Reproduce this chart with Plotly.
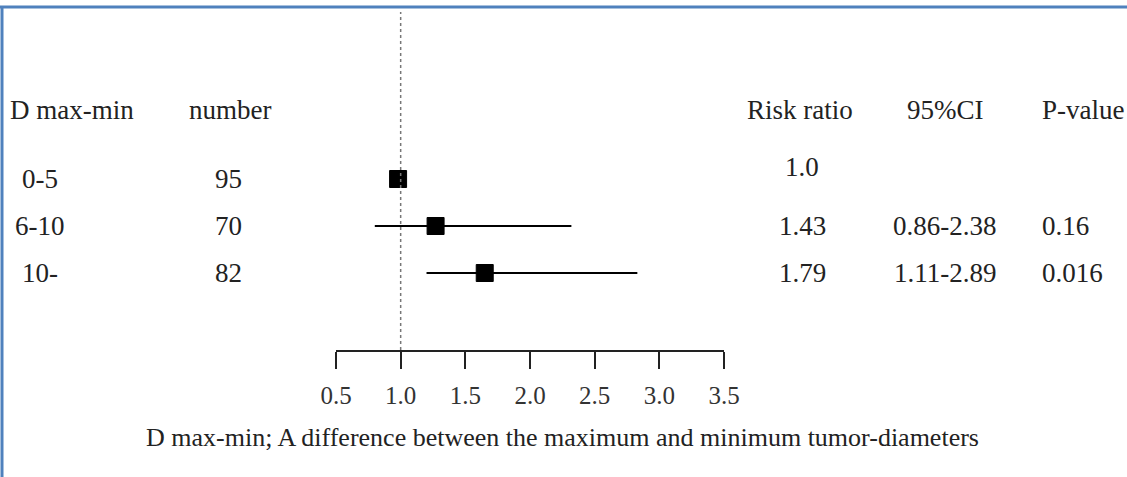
import plotly.graph_objects as go

# ---- data ----
groups = ["0-5", "6-10", "10-"]
numbers = ["95", "70", "82"]
rr_text = ["1.0", "1.43", "1.79"]
ci_text = ["", "0.86-2.38", "1.11-2.89"]
p_text = ["", "0.16", "0.016"]
# plotted positions
rr_plot = [0.98, 1.27, 1.65]
ci_lo_plot = [0.98, 0.80, 1.20]
ci_hi_plot = [0.98, 2.32, 2.83]
x_ticks = [0.5, 1.0, 1.5, 2.0, 2.5, 3.0, 3.5]
tick_labels = ["0.5", "1.0", "1.5", "2.0", "2.5", "3.0", "3.5"]
headers = ["D max-min", "number", "Risk ratio", "95%CI", "P-value"]
caption = "D max-min; A difference between the maximum and minimum tumor-diameters"

W, H = 1127, 477
FONT = "'Liberation Serif', 'Times New Roman', Times, serif"
rows = list(range(len(groups)))

fig = go.Figure()
fig.add_trace(go.Scatter(
    x=rr_plot, y=rows, mode="markers",
    marker=dict(symbol="square", size=17, color="black", line=dict(width=1, color="black")),
    error_x=dict(type="data", symmetric=False,
                 array=[h - r for h, r in zip(ci_hi_plot, rr_plot)],
                 arrayminus=[r - l for r, l in zip(rr_plot, ci_lo_plot)],
                 width=0, thickness=2, color="black"),
    showlegend=False, hoverinfo="skip"))

# pixel layout helpers
ax_left, ax_right, ax_y = 336, 724, 350
row0_px, row_step = 179, 47
y_top = (0 - row0_px) / row_step
y_bot = (ax_y - row0_px) / row_step

fig.update_layout(
    width=W, height=H, autosize=False,
    margin=dict(l=0, r=0, t=0, b=0, pad=0, autoexpand=False),
    showlegend=False,
    paper_bgcolor="white", plot_bgcolor="white",
    font=dict(family=FONT, size=27, color="#222"),
    xaxis=dict(domain=[ax_left / W, ax_right / W], range=[0.5, 3.5], automargin=False,
               tickvals=x_ticks, ticktext=tick_labels, showgrid=False, zeroline=False,
               showline=True, linecolor="#222", linewidth=2,
               ticks="outside", ticklen=17, tickwidth=2, tickcolor="#222",
               tickfont=dict(family=FONT, size=25, color="#333"), ticklabelstandoff=5),
    yaxis=dict(domain=[(H - ax_y) / H, 1], range=[y_bot, y_top], visible=False,
               automargin=False),
)

# reference dotted line at 1.0
fig.add_shape(type="line", xref="x", yref="paper", x0=1.0, x1=1.0,
              y0=(H - ax_y) / H, y1=(H - 12) / H,
              line=dict(color="#777", width=1.5, dash="dot"))

# border (top and left)
fig.add_shape(type="line", xref="paper", yref="paper", x0=0, x1=1,
              y0=(H - 7) / H, y1=(H - 7) / H, line=dict(color="#4f81bd", width=3))
fig.add_shape(type="line", xref="paper", yref="paper", x0=2 / W, x1=2 / W,
              y0=0, y1=(H - 7) / H, line=dict(color="#4f81bd", width=3))

def ann(text, xpx, ypx, anchor="center", size=27):
    fig.add_annotation(text=text, xref="paper", yref="paper", x=xpx / W, y=(H - ypx) / H,
                       xanchor=anchor, yanchor="middle", showarrow=False,
                       font=dict(family=FONT, size=size, color="#222"))

# headers
head_y = 110
ann(headers[0], 8, head_y, "left")
ann(headers[1], 230, head_y)
ann(headers[2], 800, head_y)
ann(headers[3], 945, head_y)
ann(headers[4], 1040, head_y, "left")

for i in rows:
    ypx = row0_px + row_step * i
    ann(groups[i], 40, ypx)
    ann(numbers[i], 228, ypx)
    ann(rr_text[i], 802, ypx - (12 if i == 0 else 0))
    if ci_text[i]:
        ann(ci_text[i], 945, ypx)
    if p_text[i]:
        ann(p_text[i], 1040, ypx, "left")

ann(caption, 562, 437, size=26)

fig.write_html("out.html",
               post_script="document.body.style.margin='0';document.body.style.overflow='hidden';")
